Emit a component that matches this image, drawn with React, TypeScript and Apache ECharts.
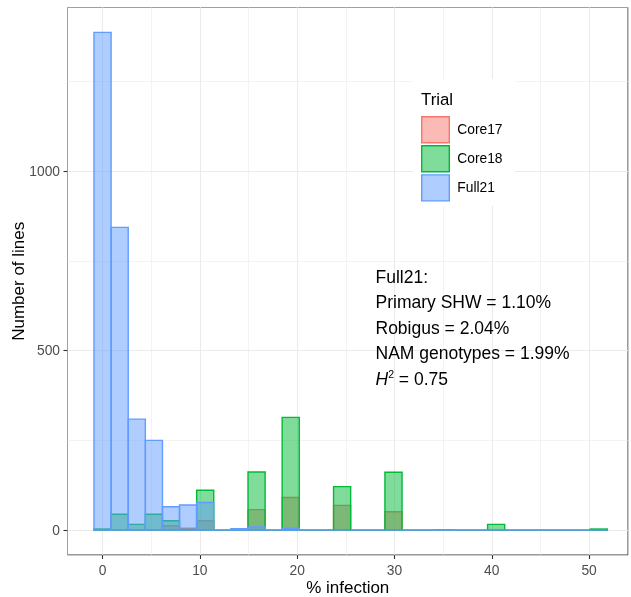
import React, { useEffect, useRef } from 'react';
import * as echarts from 'echarts';

// ---- data ----
const BIN_WIDTH = 1.7586;
const BIN_CENTERS = [
  0, 1.76, 3.52, 5.28, 7.03, 8.79, 10.55, 12.31, 14.07, 15.83,
  17.59, 19.34, 21.1, 22.86, 24.62, 26.38, 28.14, 29.9, 31.66, 33.41,
  35.17, 36.93, 38.69, 40.45, 42.21, 43.97, 45.72, 47.48, 49.24, 51.0,
];
const CORE17 = [
  0, 0, 0, 0, 12, 5, 26, 0, 0, 57,
  0, 91, 0, 0, 69, 0, 0, 51, 0, 0,
  0, 0, 0, 0, 0, 0, 0, 0, 0, 0,
];
const CORE18 = [
  3, 44, 16, 44, 26, 2, 111, 0, 0, 162,
  0, 314, 0, 0, 121, 0, 0, 161, 0, 0,
  1, 0, 0, 16, 0, 0, 0, 0, 0, 3,
];
const FULL21 = [
  1386, 843, 309, 250, 65, 70, 77, 0, 4, 9,
  0, 5, 0, 0, 0, 0, 0, 0, 0, 0,
  1, 0, 0, 0, 0, 0, 0, 0, 0, 0,
];
const SERIES_NAMES = ['Core17', 'Core18', 'Full21'];
const SERIES_VALUES = [CORE17, CORE18, FULL21];
const X_TICKS = [0, 10, 20, 30, 40, 50];
const Y_TICKS = [0, 500, 1000];
const LEGEND_TITLE = 'Trial';
const NOTE_LINES = ['Full21:', 'Primary SHW = 1.10%', 'Robigus = 2.04%', 'NAM genotypes = 1.99%'];
const H2_VALUE = '0.75';

// ---- styles ----
const STROKES = ['#F8766D', '#00BA38', '#619CFF'];
const FILLS = ['rgba(248,118,109,0.5)', 'rgba(0,186,56,0.5)', 'rgba(97,156,255,0.5)'];
const FONT = '"Liberation Sans", Arial, Helvetica, sans-serif';
const GRID_COLOR = '#EBEBEB';

function makeRender(stroke: string, fill: string) {
  return (params: any, api: any) => {
    const c = api.value(0);
    const v = api.value(1);
    const a = api.coord([c - BIN_WIDTH / 2, 0]);
    const b = api.coord([c + BIN_WIDTH / 2, v]);
    return {
      type: 'polygon',
      shape: { points: [[a[0], a[1]], [b[0], a[1]], [b[0], b[1]], [a[0], b[1]]] },
      style: { fill, stroke, lineWidth: 1.4 },
    };
  };
}

export default function App() {
  const ref = useRef<HTMLDivElement>(null);
  useEffect(() => {
    if (!ref.current) return;
    const chart = echarts.init(ref.current, undefined, { renderer: 'svg' });
    const series = SERIES_NAMES.map((name, i) => ({
      name,
      type: 'custom',
      xAxisIndex: 0,
      yAxisIndex: 0,
      renderItem: makeRender(STROKES[i], FILLS[i]),
      itemStyle: { color: FILLS[i], borderColor: STROKES[i], borderWidth: 1.4 },
      encode: { x: 0, y: 1 },
      data: BIN_CENTERS.map((c, k) => [c, SERIES_VALUES[i][k]]),
      z: 2 + i,
    }));
    const option: any = {
      animation: false,
      grid: {
        left: 67.5, top: 7.5, width: 560.5, height: 547.5,
        outerBoundsMode: 'none', containLabel: false,
        show: true, borderColor: '#333333', borderWidth: 1, backgroundColor: 'transparent',
      },
      xAxis: [
        {
          type: 'value', min: -3.6, max: 54, minInterval: 10, maxInterval: 10, position: 'bottom',
          axisLine: { show: false, onZero: false },
          axisTick: { show: true, inside: false, length: 4, lineStyle: { color: '#333333', width: 1.1 }, customValues: X_TICKS },
          axisLabel: { customValues: X_TICKS, margin: 8, color: '#4D4D4D', fontSize: 13.8, fontFamily: FONT, formatter: (v: number) => String(v) },
          splitLine: { show: true, lineStyle: { color: GRID_COLOR, width: 1.1 } },
          name: '% infection', nameLocation: 'middle', nameGap: 24, nameMoveOverlap: false,
          nameTextStyle: { fontSize: 17, color: '#000', fontFamily: FONT },
        },
        {
          type: 'value', min: -3.6, max: 54, minInterval: 5, maxInterval: 5, position: 'top',
          axisLine: { show: false, onZero: false }, axisTick: { show: false }, axisLabel: { show: false },
          splitLine: { show: true, lineStyle: { color: GRID_COLOR, width: 0.6 } },
        },
      ],
      yAxis: [
        {
          type: 'value', min: -69.3, max: 1455.3, minInterval: 500, maxInterval: 500, position: 'left',
          axisLine: { show: false, onZero: false },
          axisTick: { show: true, inside: false, length: 4, lineStyle: { color: '#333333', width: 1.1 }, customValues: Y_TICKS },
          axisLabel: { customValues: Y_TICKS, margin: 7.5, color: '#4D4D4D', fontSize: 13.8, fontFamily: FONT, formatter: (v: number) => String(v) },
          splitLine: { show: true, lineStyle: { color: GRID_COLOR, width: 1.1 } },
          name: 'Number of lines', nameLocation: 'middle', nameGap: 41, nameRotate: 90, nameMoveOverlap: false,
          nameTextStyle: { fontSize: 17, color: '#000', fontFamily: FONT },
        },
        {
          type: 'value', min: -69.3, max: 1455.3, minInterval: 250, maxInterval: 250, position: 'right',
          axisLine: { show: false, onZero: false }, axisTick: { show: false }, axisLabel: { show: false },
          splitLine: { show: true, lineStyle: { color: GRID_COLOR, width: 0.6 } },
        },
      ],
      legend: {
        orient: 'vertical', left: 421, top: 116, padding: 0,
        itemWidth: 27.6, itemHeight: 26, itemGap: 1.7, icon: 'rect',
        textStyle: { fontSize: 13.8, color: '#000', fontFamily: FONT, padding: [0, 0, 0, 3] },
        data: SERIES_NAMES.map((name, i) => ({
          name,
          itemStyle: { color: FILLS[i], borderColor: STROKES[i], borderWidth: 1.4 },
        })),
        z: 6,
      },
      graphic: [
        { type: 'rect', z: 5, silent: true, shape: { x: 413, y: 79, width: 102, height: 127 }, style: { fill: '#ffffff' } },
        {
          type: 'text', z: 7, x: 421, y: 99.3,
          style: { text: LEGEND_TITLE, fontSize: 16.8, fill: '#000', fontFamily: FONT, verticalAlign: 'middle', align: 'left' },
        },
        ...NOTE_LINES.map((t, i) => ({
          type: 'text', z: 7, x: 375.5, y: 276.7 + i * 25.5,
          style: { text: t, fontSize: 17.5, fill: '#000', fontFamily: FONT, verticalAlign: 'middle', align: 'left' },
        })),
        {
          type: 'text', z: 7, x: 375.5, y: 378.5,
          style: {
            text: '{h|H}{s|2}{n| = ' + H2_VALUE + '}',
            verticalAlign: 'middle', align: 'left',
            rich: {
              h: { fontSize: 17.5, fontStyle: 'italic', fill: '#000', fontFamily: FONT, lineHeight: 20, verticalAlign: 'middle' },
              s: { fontSize: 10.5, fill: '#000', fontFamily: FONT, lineHeight: 10, verticalAlign: 'top' },
              n: { fontSize: 17.5, fill: '#000', fontFamily: FONT, lineHeight: 20, verticalAlign: 'middle' },
            },
          },
        },
      ],
      series,
    };
    chart.setOption(option);
    return () => chart.dispose();
  }, []);
  return <div ref={ref} style={{ position: 'fixed', left: 0, top: 0, width: 631, height: 597 }} />;
}
